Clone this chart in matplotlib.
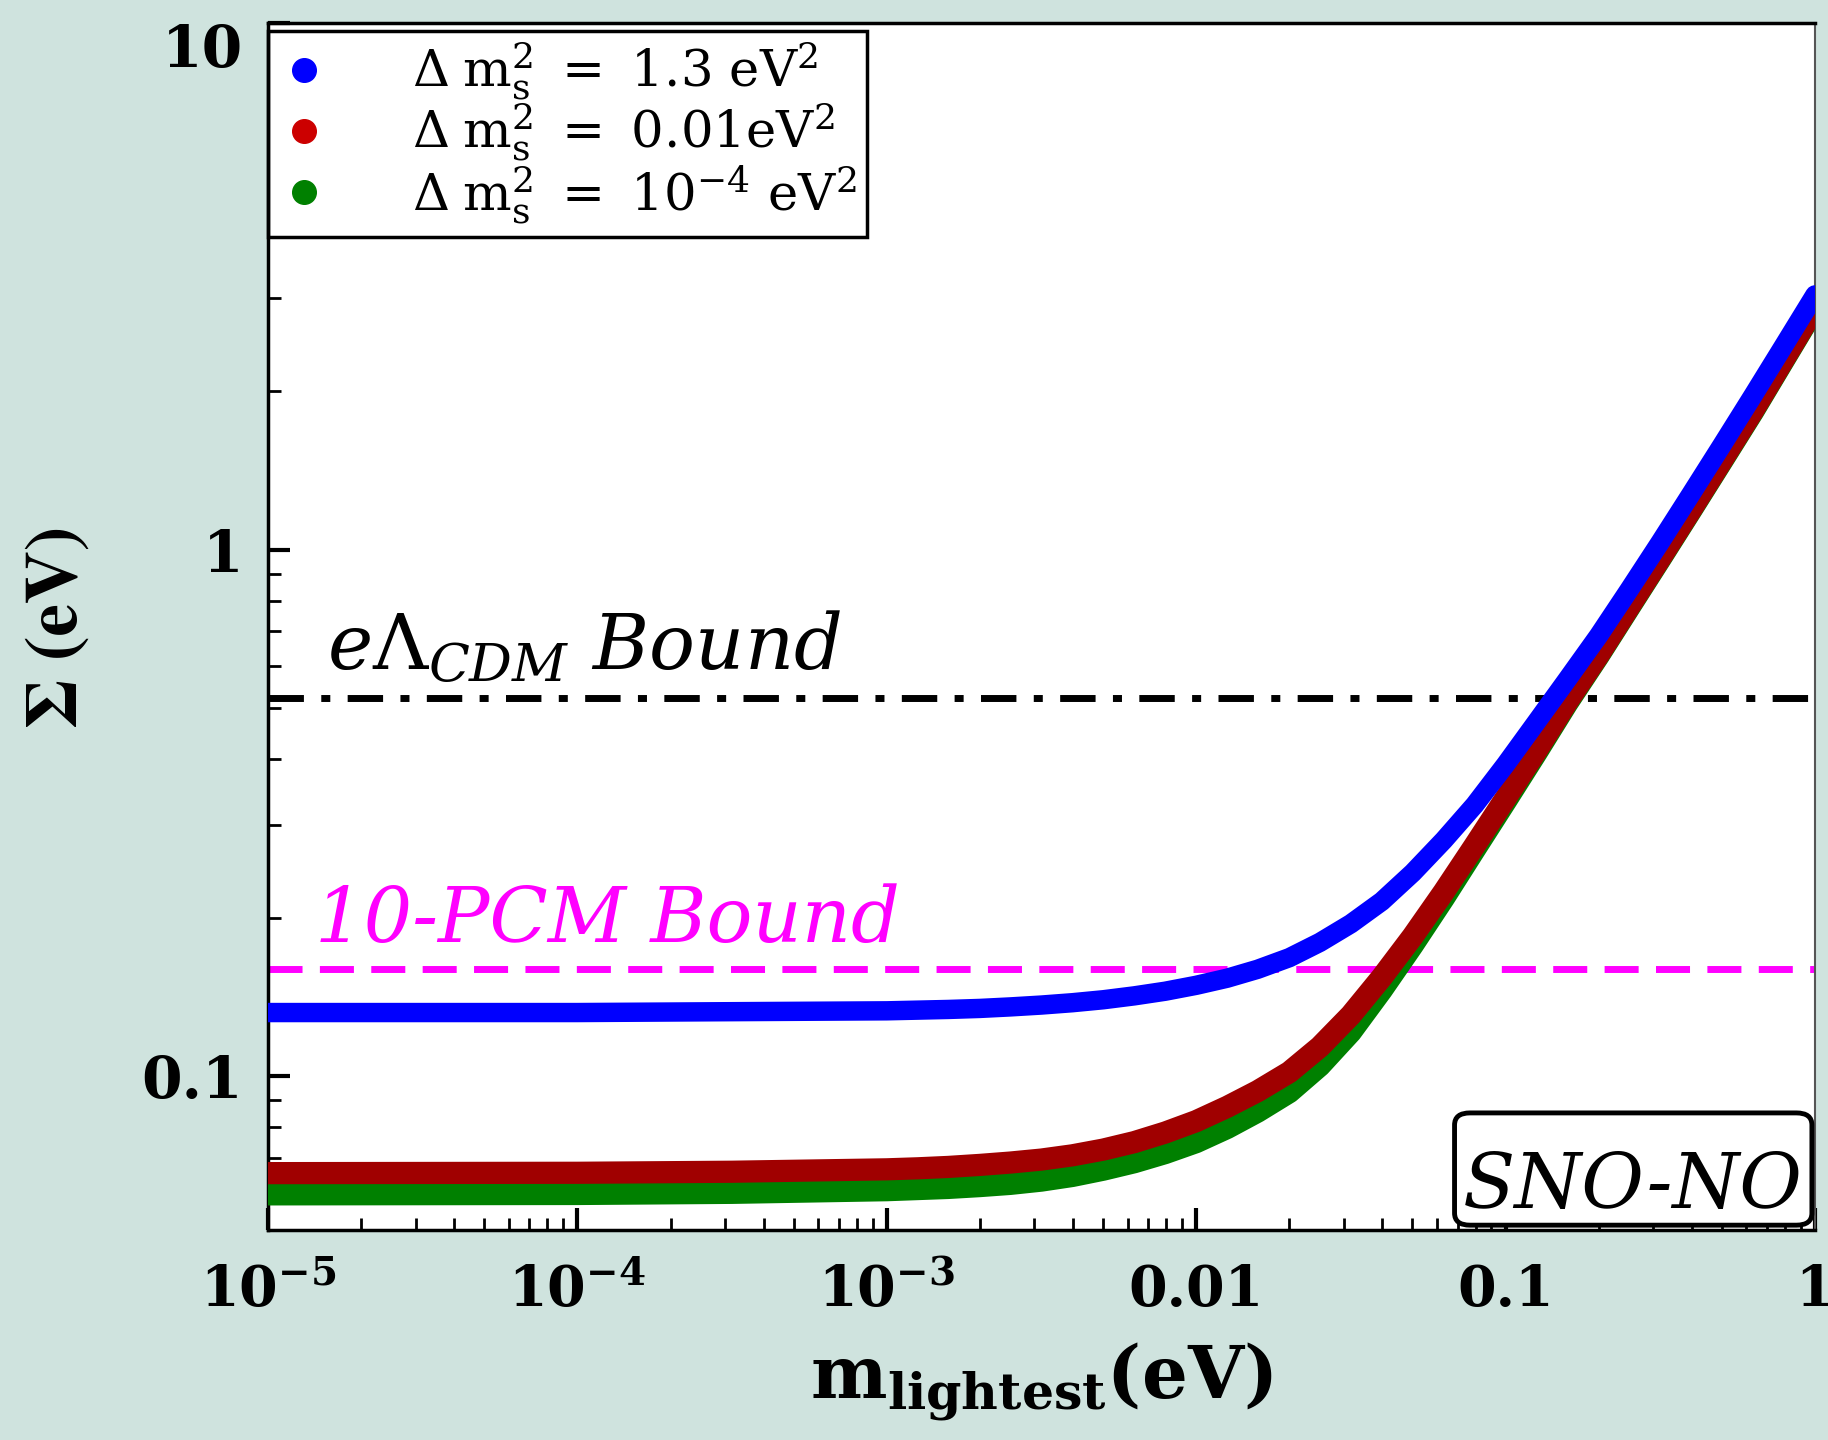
import numpy as np
import matplotlib
matplotlib.use("Agg")
import matplotlib.pyplot as plt
from matplotlib.lines import Line2D
from matplotlib.patches import FancyBboxPatch

# lightest neutrino mass (eV)
m_light = [1e-5, 1e-4, 3.16e-4,
           0.001, 0.00126, 0.00158, 0.002, 0.00251, 0.00316, 0.00398, 0.00501, 0.00631, 0.00794,
           0.01, 0.0126, 0.0158, 0.02, 0.0251, 0.0316, 0.0398, 0.0501, 0.0631, 0.0794,
           0.1, 0.126, 0.158, 0.2, 0.251, 0.316, 0.398, 0.501, 0.631, 0.794, 1.0]

# sum of masses (eV) for the three sterile splittings
sigma_13 = [0.132, 0.132, 0.1325,
            0.1330, 0.1334, 0.1338, 0.1344, 0.1353, 0.1364, 0.1378, 0.1396, 0.1420, 0.1449,
            0.1487, 0.1534, 0.1595, 0.1678, 0.1794, 0.1946, 0.2147, 0.2432, 0.2804, 0.3271,
            0.3905, 0.4708, 0.5658, 0.6866, 0.8389, 1.032, 1.276, 1.580, 1.962, 2.442, 3.045]
sigma_001 = [0.0654, 0.0655, 0.0658,
             0.0665, 0.0668, 0.0672, 0.0678, 0.0685, 0.0694, 0.0707, 0.0725, 0.0749, 0.0781,
             0.0821, 0.0874, 0.0936, 0.1017, 0.1136, 0.1305, 0.1540, 0.1842, 0.2236, 0.2739,
             0.3369, 0.4154, 0.5134, 0.6314, 0.7791, 0.9627, 1.192, 1.479, 1.837, 2.301, 2.884]
sigma_1e4 = [0.0596, 0.0597, 0.0600,
             0.0607, 0.0610, 0.0613, 0.0618, 0.0624, 0.0633, 0.0646, 0.0664, 0.0686, 0.0714,
             0.0749, 0.0797, 0.0856, 0.0932, 0.1046, 0.1212, 0.1457, 0.1772, 0.2175, 0.2689,
             0.3322, 0.4115, 0.5099, 0.6285, 0.7754, 0.9583, 1.187, 1.472, 1.828, 2.291, 2.871]

lcdm_bound = 0.523
pcm_bound = 0.160

xticks = [1e-5, 1e-4, 1e-3, 1e-2, 1e-1, 1]
xticklabels = [r'$\mathbf{10^{-5}}$', r'$\mathbf{10^{-4}}$', r'$\mathbf{10^{-3}}$', '0.01', '0.1', '1']
yticks = [0.1, 1, 10]
yticklabels = ['0.1', '1', '10']

legend_labels = [r'$\Delta\;\mathrm{m}_\mathrm{s}^2\ =\ 1.3\ \mathrm{eV}^2$',
                 r'$\Delta\;\mathrm{m}_\mathrm{s}^2\ =\ 0.01\mathrm{eV}^2$',
                 r'$\Delta\;\mathrm{m}_\mathrm{s}^2\ =\ 10^{-4}\ \mathrm{eV}^2$']

plt.rcParams['font.family'] = ['DejaVu Serif']
plt.rcParams['mathtext.fontset'] = 'dejavuserif'

W, H = 1828, 1440
fig = plt.figure(figsize=(W / 100, H / 100), dpi=100, facecolor='#cfe3de')
ax = fig.add_axes([268 / W, 1 - 1230 / H, (1815 - 268) / W, (1230 - 23) / H])
ax.set_facecolor('white')

ax.plot(m_light, sigma_1e4, color='#008000', lw=16, solid_capstyle='butt',
        solid_joinstyle='round', zorder=3)
ax.plot(m_light, sigma_001, color='#a00000', lw=16, solid_capstyle='butt',
        solid_joinstyle='round', zorder=4)
ax.plot(m_light, sigma_13, color='#0000ff', lw=14, solid_capstyle='round',
        solid_joinstyle='round', zorder=5)

ax.axhline(lcdm_bound, color='black', lw=5, dashes=(5.1, 2.5, 1.3, 2.5), zorder=2)
ax.axhline(pcm_bound, color='#ff00ff', lw=5, dashes=(4.9, 2.5), zorder=2)

ax.set_xscale('log')
ax.set_yscale('log')
ax.set_xlim(1e-5, 1)
ax.set_ylim(0.051, 10)

ax.set_xticks(xticks)
ax.set_xticklabels(xticklabels)
ax.set_yticks(yticks)
ax.set_yticklabels(yticklabels)
for lab in ax.get_xticklabels():
    lab.set_fontweight('bold')
    lab.set_fontsize(40)
for lab in ax.get_yticklabels():
    lab.set_fontweight('bold')
    lab.set_fontsize(42)
ax.get_yticklabels()[-1].set_va('top')

ax.tick_params(which='major', direction='in', length=16, width=3, top=False, right=False)
ax.tick_params(which='minor', direction='in', length=9, width=2, top=False, right=False)
ax.tick_params(axis='x', which='major', pad=24)
ax.tick_params(axis='y', which='major', pad=18)
for side in ['left', 'bottom', 'top']:
    ax.spines[side].set_linewidth(2.5)
ax.spines['right'].set_linewidth(1.5)
ax.spines['right'].set_color('#555555')

ax.set_xlabel(r'$\mathbf{m_{lightest}(eV)}$', fontsize=52, labelpad=16)
ax.set_ylabel('Σ (eV)', fontsize=53, fontweight='bold', family='STIXGeneral', labelpad=36)

ax.text(1.55e-5, 0.59, r'$\mathit{e\Lambda_{CDM}\ Bound}$', fontsize=55, color='black', va='baseline')
ax.text(1.42e-5, 0.18, '10-PCM Bound', fontsize=55, style='italic', color='#ff00ff', va='baseline')

box = FancyBboxPatch((0.767, 0.004), 0.231, 0.093, transform=ax.transAxes,
                     boxstyle='round,pad=0,rounding_size=0.01', fc='white', ec='black', lw=3.5, zorder=6)
ax.add_patch(box)
ax.text(0.882, 0.018, 'SNO-NO', transform=ax.transAxes, fontsize=55, style='italic',
        ha='center', va='baseline', zorder=7)

handles = [Line2D([], [], ls='none', marker='o', ms=17, color=c)
           for c in ['#0000ff', '#cc0000', '#008000']]
leg = ax.legend(handles, legend_labels, loc='upper left', bbox_to_anchor=(0.0, 0.9934),
                borderaxespad=0, fontsize=37, frameon=True, fancybox=False, framealpha=1,
                labelspacing=-0.02, handletextpad=1.6, handlelength=1.0, borderpad=0.2)
leg.get_frame().set_edgecolor('black')
leg.get_frame().set_linewidth(2.5)
leg.set_zorder(2.2)

fig.savefig('out.png', dpi=100, facecolor=fig.get_facecolor())
